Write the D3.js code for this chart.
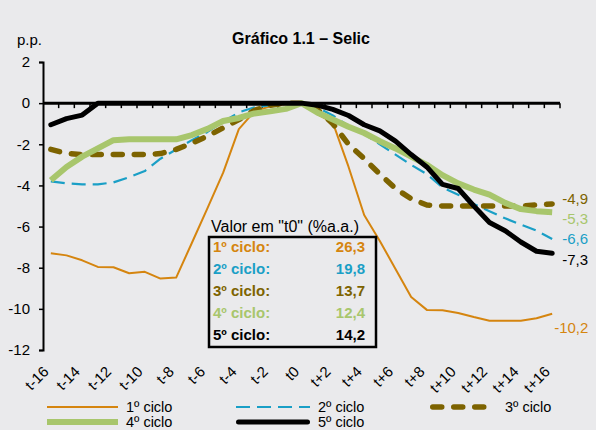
<!DOCTYPE html>
<html>
<head>
<meta charset="utf-8">
<script src="https://cdn.jsdelivr.net/npm/d3@7"></script>
<style>
  html, body { margin: 0; padding: 0; background: #eaeaec; }
  svg { display: block; font-family: "Liberation Sans", Arial, sans-serif; }
</style>
</head>
<body>
<svg id="graph"></svg>
<script>
var width = 596, height = 430;

// categorias t-16 ... t+16
var categories = d3.range(-16, 17).map(function(d){ return d < 0 ? "t" + d : (d == 0 ? "t0" : "t+" + d); });
var tickLabels = categories.filter(function(d, i){ return i % 2 == 0; });
var yTicks = [2, 0, -2, -4, -6, -8, -10, -12];

var ciclo1 = [-7.3,-7.4,-7.64,-7.96,-7.98,-8.27,-8.2,-8.53,-8.48,-6.8,-5.1,-3.38,-1.26,-0.4,-0.15,-0.05,0,
              -0.53,-0.95,-3.09,-5.44,-6.7,-8.06,-9.42,-10.05,-10.07,-10.2,-10.4,-10.58,-10.58,-10.58,-10.46,-10.24];
var ciclo2 = [-3.8,-3.9,-3.95,-3.95,-3.85,-3.6,-3.3,-2.7,-2.25,-1.8,-1.4,-0.9,-0.45,-0.2,-0.1,-0.03,0,
              -0.2,-0.6,-1.1,-1.5,-2.0,-2.5,-3.0,-3.45,-4.1,-4.45,-4.9,-5.25,-5.6,-5.9,-6.2,-6.6];
var ciclo3 = [-2.25,-2.45,-2.5,-2.5,-2.5,-2.5,-2.5,-2.45,-2.25,-1.95,-1.6,-1.2,-0.8,-0.35,-0.1,0,0,
              -0.3,-1.0,-2.0,-2.7,-3.45,-4.15,-4.65,-4.95,-5.0,-5.0,-5.0,-5.0,-5.0,-5.0,-4.95,-4.9];
var ciclo4 = [-3.75,-3.1,-2.6,-2.2,-1.8,-1.76,-1.76,-1.76,-1.76,-1.55,-1.25,-0.87,-0.72,-0.5,-0.4,-0.28,0,
              -0.45,-0.8,-1.15,-1.45,-1.85,-2.2,-2.6,-3.0,-3.5,-3.9,-4.2,-4.45,-4.85,-5.15,-5.25,-5.3];
var ciclo5 = [-1.05,-0.75,-0.58,0,0,0,0,0,0,0,0,0,0,0,0,0,0,
              -0.1,-0.3,-0.6,-1.05,-1.35,-1.85,-2.5,-3.1,-3.95,-4.15,-5.0,-5.8,-6.2,-6.75,-7.2,-7.3];

var seriesNames = ["1º ciclo", "2º ciclo", "3º ciclo", "4º ciclo", "5º ciclo"];
var seriesData = [ciclo1, ciclo2, ciclo3, ciclo4, ciclo5];
var t0Values = ["26,3", "19,8", "13,7", "12,4", "14,2"];
var endLabels = ["-10,2", "-6,6", "-4,9", "-5,3", "-7,3"];

var colors = ["#d5850f", "#1a9fc6", "#7d6300", "#a8c66c", "#000000"];
var widths = [2, 2.2, 5.5, 6, 5];
var dashes = [null, "14,7", "9,12", null, null];
var caps = ["butt", "butt", "round", "butt", "round"];
var labelDy = [14, 0, -5, 7, 6];
var labelDx = [2, 10, 10, 10, 10];

var svg = d3.select("#graph")
    .attr("width", width)
    .attr("height", height);

svg.append("rect").attr("width", width).attr("height", height).attr("fill", "#eaeaec");

var x = d3.scaleBand().domain(categories).range([43, 560]).padding(0);
var y = d3.scaleLinear().domain([-12, 2]).range([350, 62]);
var cx = function(c){ return x(c) + x.bandwidth() / 2; };

// titulo
svg.append("text")
   .attr("x", 301).attr("y", 44)
   .attr("text-anchor", "middle")
   .attr("font-size", 16).attr("font-weight", "bold")
   .text("Gráfico 1.1 – Selic");
svg.append("text")
   .attr("x", 17).attr("y", 45)
   .attr("font-size", 15)
   .text("p.p.");

// eixo y
var yAxis = svg.append("g")
    .attr("transform", "translate(43,0)")
    .call(d3.axisLeft(y).tickValues(yTicks).tickSize(4).tickPadding(9).tickFormat(d3.format("d")));
yAxis.select(".domain").attr("stroke", "#000").attr("stroke-width", 2);
yAxis.selectAll(".tick line").attr("stroke", "#000").attr("stroke-width", 1.5);
yAxis.selectAll(".tick text").attr("font-size", 15).attr("fill", "#000")
     .attr("font-family", "Liberation Sans, Arial, sans-serif")
     .text(function(d){ return d < 0 ? "-" + Math.abs(d) : d; });

// eixo x na linha do zero
var gx = svg.append("g");
gx.append("line")
  .attr("x1", x.range()[0]).attr("x2", x.range()[1])
  .attr("y1", y(0)).attr("y2", y(0))
  .attr("stroke", "#000").attr("stroke-width", 3);
var bounds = categories.map(function(c){ return x(c); }).concat([x.range()[1]]);
gx.selectAll(".xt")
  .data(bounds.slice(1))
  .join("line")
  .attr("class", "xt")
  .attr("x1", d => d).attr("x2", d => d)
  .attr("y1", y(0)).attr("y2", y(0) + 5)
  .attr("stroke", "#000").attr("stroke-width", 1.5);

gx.selectAll(".xl")
  .data(tickLabels)
  .join("text")
  .attr("class", "xl")
  .attr("text-anchor", "end")
  .attr("font-size", 15)
  .attr("transform", d => "translate(" + (cx(d) - 5) + ",369) rotate(-45)")
  .attr("dy", "0.35em")
  .text(d => d);

// series
var line = d3.line()
    .x((d, i) => cx(categories[i]))
    .y(d => y(d));

seriesData.forEach(function(s, k){
    svg.append("path")
       .datum(s)
       .attr("fill", "none")
       .attr("stroke", colors[k])
       .attr("stroke-width", widths[k])
       .attr("stroke-dasharray", dashes[k])
       .attr("stroke-linecap", caps[k])
       .attr("stroke-linejoin", "round")
       .attr("d", line);
});

// rotulos no fim das linhas
var lastCat = categories[categories.length - 1];
seriesData.forEach(function(s, k){
    svg.append("text")
       .attr("x", cx(lastCat) + labelDx[k])
       .attr("y", y(s[s.length - 1]) + labelDy[k])
       .attr("dy", "0.35em")
       .attr("font-size", 15)
       .attr("fill", colors[k])
       .text(endLabels[k]);
});

// tabela "Valor em t0"
var tb = svg.append("g");
tb.append("text")
  .attr("x", 211).attr("y", 232)
  .attr("font-size", 16)
  .text("Valor em \"t0\" (%a.a.)");
tb.append("rect")
  .attr("x", 209).attr("y", 237)
  .attr("width", 167).attr("height", 110)
  .attr("fill", "none")
  .attr("stroke", "#000").attr("stroke-width", 2.5);
var rowY = d3.scaleBand().domain(seriesNames).range([236, 346]).padding(0);
tb.selectAll(".nm")
  .data(seriesNames)
  .join("text")
  .attr("class", "nm")
  .attr("x", 213)
  .attr("y", d => rowY(d) + rowY.bandwidth() / 2)
  .attr("dy", "0.35em")
  .attr("font-size", 15).attr("font-weight", "bold")
  .attr("fill", (d, i) => colors[i])
  .text(d => d + ":");
tb.selectAll(".vl")
  .data(t0Values)
  .join("text")
  .attr("class", "vl")
  .attr("x", 365)
  .attr("y", (d, i) => rowY(seriesNames[i]) + rowY.bandwidth() / 2)
  .attr("dy", "0.35em")
  .attr("text-anchor", "end")
  .attr("font-size", 15).attr("font-weight", "bold")
  .attr("fill", (d, i) => colors[i])
  .text(d => d);

// legenda
var legPos = [[47, 407], [236, 407], [430, 407], [47, 422], [236, 422]];
var legLen = [71, 74, 67, 71, 74];
seriesNames.forEach(function(n, k){
    var g = svg.append("g").attr("transform", "translate(" + legPos[k][0] + "," + legPos[k][1] + ")");
    g.append("line")
     .attr("x1", caps[k] == "round" ? widths[k] / 2 : 0).attr("x2", legLen[k] - (caps[k] == "round" ? widths[k] / 2 : 0))
     .attr("y1", 0).attr("y2", 0)
     .attr("stroke", colors[k])
     .attr("stroke-width", widths[k])
     .attr("stroke-dasharray", dashes[k])
     .attr("stroke-linecap", caps[k]);
    g.append("text")
     .attr("x", legLen[k] + 8)
     .attr("dy", "0.35em")
     .attr("font-size", 14.5)
     .text(n);
});
</script>
</body>
</html>
